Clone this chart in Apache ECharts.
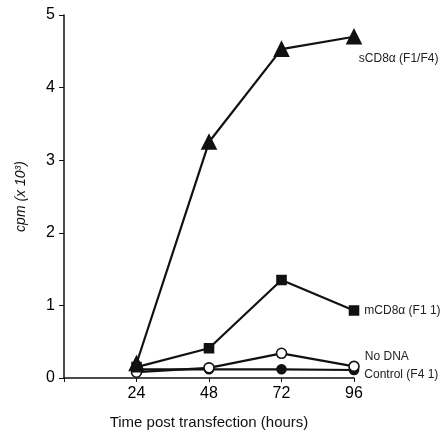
<!DOCTYPE html>
<html>
<head>
<meta charset="utf-8">
<script src="https://cdn.jsdelivr.net/npm/echarts@6/dist/echarts.min.js"></script>
<style>html,body{margin:0;padding:0;background:#fff}#c{width:448px;height:435px}</style>
</head>
<body>
<div id="c"></div>
<script>
var hours = [24, 48, 72, 96];
var sCD8 = [0.2, 3.25, 4.53, 4.7];
var mCD8 = [0.15, 0.41, 1.35, 0.93];
var noDNA = [0.08, 0.14, 0.34, 0.16];
var control = [0.12, 0.12, 0.12, 0.11];
var xTicks = [24, 48, 72, 96];
var yTicks = [0, 1, 2, 3, 4, 5];
var seriesNames = ['sCD8\u03b1 (F1/F4)', 'mCD8\u03b1 (F1 1)', 'No DNA', 'Control (F4 1)'];

var FONT = '"Liberation Sans", Arial, sans-serif';
var INK = '#111';

function mk(vals, lab, offset) {
  return vals.map(function (v, i) {
    var d = { value: [hours[i], v] };
    if (i === vals.length - 1) {
      d.label = {
        show: true, position: 'right', formatter: lab, offset: offset,
        color: '#222', fontSize: 12, fontFamily: FONT
      };
    }
    return d;
  });
}

function line(name, vals, symbol, size, fill, offset, z) {
  return {
    name: name, type: 'line', data: mk(vals, name, offset),
    symbol: symbol, symbolSize: size, z: z,
    lineStyle: { color: INK, width: 2.2 },
    itemStyle: { color: fill, borderColor: INK, borderWidth: 1.6 },
    label: { show: false },
    animation: false
  };
}

var chart = echarts.init(document.getElementById('c'));
chart.setOption({
  backgroundColor: '#fff',
  grid: { left: 64, right: 94, top: 15, bottom: 55 },
  xAxis: {
    type: 'value', min: 0, max: 96, interval: 24,
    name: 'Time post transfection (hours)', nameLocation: 'middle', nameGap: 37,
    nameTextStyle: { color: '#111', fontSize: 15, fontFamily: FONT },
    axisLine: { show: true, lineStyle: { color: INK, width: 1.5 } },
    axisTick: { show: true, length: 4, lineStyle: { color: INK } },
    splitLine: { show: false },
    axisLabel: {
      color: '#000', fontSize: 16, fontFamily: FONT, margin: 8,
      formatter: function (v) { return xTicks.indexOf(v) >= 0 ? String(v) : ''; }
    }
  },
  yAxis: {
    type: 'value', min: 0, max: 5, interval: 1,
    name: 'cpm (x 10\u00b3)', nameLocation: 'middle', nameGap: 36,
    nameTextStyle: { color: '#111', fontSize: 14, fontStyle: 'italic', fontFamily: FONT },
    axisLine: { show: true, lineStyle: { color: INK, width: 1.5 } },
    axisTick: { show: true, length: 5, lineStyle: { color: INK } },
    splitLine: { show: false },
    axisLabel: {
      color: '#000', fontSize: 16, fontFamily: FONT, margin: 9,
      formatter: function (v) { return yTicks.indexOf(v) >= 0 ? String(v) : ''; }
    }
  },
  series: [
    line(seriesNames[0], sCD8, 'triangle', 14, INK, [-8, 22], 5),
    line(seriesNames[1], mCD8, 'rect', 9, INK, [0, 0], 4),
    line(seriesNames[2], noDNA, 'circle', 10, '#fff', [0, -10], 3),
    line(seriesNames[3], control, 'circle', 9, INK, [0, 5], 2)
  ]
});
</script>
</body>
</html>
